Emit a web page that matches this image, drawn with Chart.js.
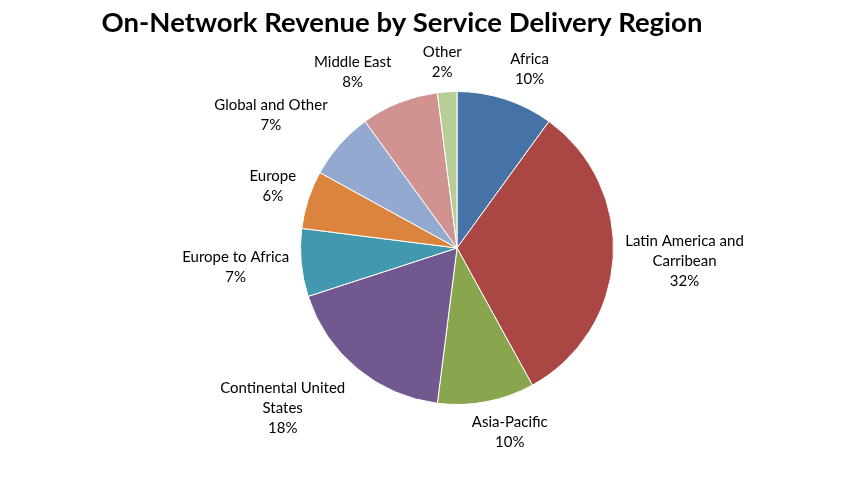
<!DOCTYPE html>
<html>
<head>
<meta charset="utf-8">
<style>
  html, body { margin: 0; padding: 0; background: #ffffff; }
  #wrap { width: 868px; height: 491px; position: relative; }
</style>
<script src="https://cdn.jsdelivr.net/npm/chart.js@4.4.1/dist/chart.umd.min.js"></script>
</head>
<body>
<div id="wrap"><canvas id="c" width="868" height="491"></canvas></div>
<script>
const chartTitle = 'On-Network Revenue by Service Delivery Region';
const categories = [
  'Africa',
  ['Latin America and', 'Carribean'],
  'Asia-Pacific',
  ['Continental United', 'States'],
  'Europe to Africa',
  'Europe',
  'Global and Other',
  'Middle East',
  'Other'
];
const shares = [10, 32, 10, 18, 7, 6, 7, 8, 2];
const sliceColors = ['#4572A7', '#AA4643', '#89A54E', '#71588F', '#4198AF', '#DB843D', '#93A9CF', '#D19392', '#B9CD96'];

const LABEL_FONT = '15px Lato, "Liberation Sans", sans-serif';
const LINE_H = 20;

const clamp = v => Math.max(-1, Math.min(1, v));

const titlePlugin = {
  id: 'titleDraw',
  afterDraw(chart) {
    const ctx = chart.ctx;
    ctx.save();
    ctx.font = 'bold 27.5px Lato, "Liberation Sans", sans-serif';
    ctx.fillStyle = '#000000';
    ctx.textAlign = 'center';
    ctx.textBaseline = 'middle';
    ctx.fillText(chartTitle, 402, 23);
    ctx.restore();
  }
};

const outsideLabels = {
  id: 'outsideLabels',
  afterDatasetsDraw(chart) {
    const ctx = chart.ctx;
    const meta = chart.getDatasetMeta(0);
    const data = chart.data.datasets[0].data;
    ctx.save();
    ctx.font = LABEL_FONT;
    ctx.fillStyle = '#000000';
    ctx.textAlign = 'center';
    ctx.textBaseline = 'middle';
    meta.data.forEach((arc, i) => {
      const p = arc.getProps(['x', 'y', 'startAngle', 'endAngle', 'outerRadius'], true);
      const a = (p.startAngle + p.endAngle) / 2;
      const dx = Math.cos(a), dy = Math.sin(a);
      const lbl = chart.data.labels[i];
      const lines = (Array.isArray(lbl) ? lbl.slice() : [lbl]);
      lines.push(data[i] + '%');
      let w = 0;
      lines.forEach(l => { w = Math.max(w, ctx.measureText(l).width); });
      const h = lines.length * LINE_H;
      const ex = p.x + p.outerRadius * dx;
      const ey = p.y + p.outerRadius * dy;
      const cx = ex + clamp(2.5 * dx) * (w / 2 + 12);
      const cy = ey + clamp(1.5 * dy) * (h / 2 + 10);
      lines.forEach((l, k) => {
        ctx.fillText(l, cx, cy - h / 2 + LINE_H / 2 + k * LINE_H);
      });
    });
    ctx.restore();
  }
};

new Chart(document.getElementById('c'), {
  type: 'pie',
  data: {
    labels: categories,
    datasets: [{
      data: shares,
      backgroundColor: sliceColors,
      borderColor: '#ffffff',
      borderWidth: 1
    }]
  },
  options: {
    responsive: false,
    animation: false,
    layout: { padding: { top: 91, bottom: 86, left: 145, right: 99 } },
    plugins: {
      legend: { display: false },
      tooltip: { enabled: false },
      title: { display: false }
    }
  },
  plugins: [outsideLabels, titlePlugin]
});
</script>
</body>
</html>
